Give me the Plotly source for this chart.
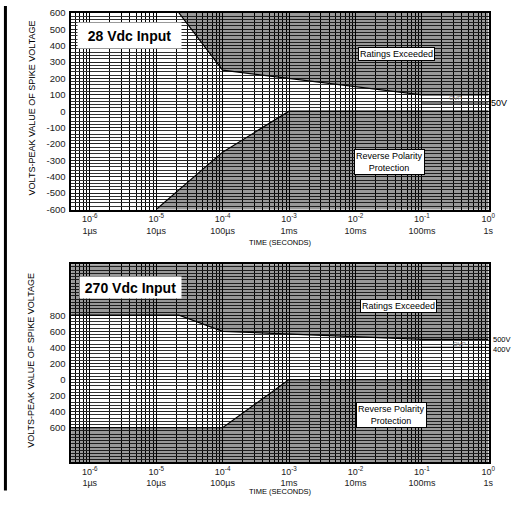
import plotly.graph_objects as go

# ---------------- data ----------------
time_ticks = [1e-6, 1e-5, 1e-4, 1e-3, 1e-2, 1e-1, 1]
time_tick_text = ["10<sup>-6</sup><br>1µs", "10<sup>-5</sup><br>10µs", "10<sup>-4</sup><br>100µs",
                  "10<sup>-3</sup><br>1ms", "10<sup>-2</sup><br>10ms", "10<sup>-1</sup><br>100ms",
                  "10<sup>0</sup><br>1s"]
minor_time = [m * 10.0 ** k for k in range(-7, 0) for m in range(2, 10)]

v28_ticks = [-600, -500, -400, -300, -200, -100, 0, 100, 200, 300, 400, 500, 600]
v28_text = [str(v) for v in v28_ticks]
v270_ticks = [-600, -400, -200, 0, 200, 400, 600, 800]
v270_text = ["600", "400", "200", "0", "200", "400", "600", "800"]

# 28 Vdc input boundaries
t28_upper = [2.2e-5, 1e-4, 1e-1, 1]
v28_upper = [600, 250, 100, 100]
t28_lower = [1e-5, 1e-4, 1e-3, 1]
v28_lower = [-600, -250, 0, 0]
t28_ovp = [1e-1, 1]
v28_ovp = [50, 50]

# 270 Vdc input boundaries
t270_upper = [4e-7, 2.2e-5, 1e-4, 1e-1, 1]
v270_upper = [800, 800, 600, 500, 500]
t270_lower = [4e-7, 1e-4, 1e-3, 1]
v270_lower = [-600, -600, 0, 0]
t270_ovp = [1e-1, 1]
v270_ovp = [400, 400]

Y28 = (-600, 600)
Y270 = (-1026, 1433)

W, H = 522, 513
FILL = "rgba(0,0,0,0.40)"
FONT = "Liberation Sans, Arial, sans-serif"

fig = go.Figure()


def add_chart(xa, ya, t_up, v_up, t_lo, v_lo, t_ovp, v_ovp, yr):
    ymin, ymax = yr
    fig.add_trace(go.Scatter(x=t_up + [t_up[-1], t_up[0]], y=v_up + [ymax + 100, ymax + 100],
                             fill="toself", fillcolor=FILL, mode="none", xaxis=xa, yaxis=ya,
                             hoverinfo="skip", showlegend=False))
    fig.add_trace(go.Scatter(x=t_lo + [t_lo[-1], t_lo[0]], y=v_lo + [ymin - 100, ymin - 100],
                             fill="toself", fillcolor=FILL, mode="none", xaxis=xa, yaxis=ya,
                             hoverinfo="skip", showlegend=False))
    for tx, vy in ((t_up, v_up), (t_lo, v_lo), (t_ovp, v_ovp)):
        fig.add_trace(go.Scatter(x=tx, y=vy, mode="lines", line=dict(color="black", width=1.2),
                                 xaxis=xa, yaxis=ya, hoverinfo="skip", showlegend=False))


add_chart("x", "y", t28_upper, v28_upper, t28_lower, v28_lower, t28_ovp, v28_ovp, Y28)
add_chart("x2", "y2", t270_upper, v270_upper, t270_lower, v270_lower, t270_ovp, v270_ovp, Y270)

xdom = [72 / W, 495 / W]
top_dom = [1 - 208 / H, 1 - 7 / H]
bot_dom = [1 - 466 / H, 1 - 264 / H]

tickfont = dict(family=FONT, size=9, color="#222")

xcommon = dict(type="log", range=[-6.28, 0.015], domain=xdom, tickmode="array", tickvals=time_ticks,
               ticktext=time_tick_text, showgrid=True, gridcolor="black", gridwidth=1,
               minor=dict(tickmode="array", tickvals=minor_time, showgrid=True, gridcolor="black",
                          gridwidth=1, ticks=""),
               showline=True, mirror=True, linecolor="black", linewidth=1.5, ticks="",
               tickfont=tickfont, zeroline=False, ticklabelstandoff=0)

fig.update_layout(
    width=W, height=H, margin=dict(l=0, r=0, t=0, b=0),
    paper_bgcolor="white", plot_bgcolor="white", showlegend=False,
    xaxis=dict(xcommon, anchor="y"),
    xaxis2=dict(xcommon, anchor="y2"),
    yaxis=dict(domain=top_dom, range=list(Y28), tickmode="array", tickvals=v28_ticks, ticktext=v28_text,
               showgrid=True, gridcolor="#222", gridwidth=1,
               minor=dict(dtick=20, tick0=0, showgrid=True, gridcolor="#333", gridwidth=1, ticks=""),
               showline=True, mirror=True, linecolor="black", linewidth=1.5, ticks="",
               tickfont=dict(tickfont, size=9.5), zeroline=False, anchor="x", ticklabelstandoff=2),
    yaxis2=dict(domain=bot_dom, range=list(Y270), tickmode="array", tickvals=v270_ticks, ticktext=v270_text,
                showgrid=True, gridcolor="#222", gridwidth=1,
                minor=dict(dtick=40, tick0=0, showgrid=True, gridcolor="#333", gridwidth=1, ticks=""),
                showline=True, mirror=True, linecolor="black", linewidth=1.5, ticks="",
                tickfont=dict(tickfont, size=9.5), zeroline=False, anchor="x2", ticklabelstandoff=2),
)


def P(px, py):
    return px / W, 1 - py / H


ann = []


def box(text, px, py, size, bold=False, border=True, w=None, h=None):
    x, y = P(px, py)
    d = dict(text=f"<b>{text}</b>" if bold else text, x=x, y=y, xref="paper", yref="paper",
             showarrow=False, xanchor="center", yanchor="middle",
             font=dict(family=FONT, size=size, color="black"), bgcolor="white", borderpad=1)
    if border:
        d.update(bordercolor="black", borderwidth=1)
    if w:
        d.update(width=w)
    if h:
        d.update(height=h)
    ann.append(d)


box("28 Vdc Input", 131.5, 30.5, 14, bold=True, border=False, w=101, h=23)
box("270 Vdc Input", 132.5, 287.5, 14, bold=True, border=False, w=99, h=19)
box("Ratings Exceeded", 401, 49.5, 9)
box("Ratings Exceeded", 403, 307, 9)
box("Reverse Polarity<br>Protection", 394.5, 159, 9)
box("Reverse Polarity<br>Protection", 396, 418, 9)


def label(text, px, py, size, color="black", xanchor="center", angle=0):
    x, y = P(px, py)
    ann.append(dict(text=text, x=x, y=y, xref="paper", yref="paper", showarrow=False,
                    xanchor=xanchor, yanchor="middle", textangle=angle, align="left",
                    font=dict(family=FONT, size=size, color=color)))


label("50V", 495, 99, 9, xanchor="left")
label("500V<br>400V", 497, 345.5, 7.5, xanchor="left")
label("OVP", 461, 94, 6, color="#777")
label("OVP", 465, 345, 6, color="#777")
label("TIME (SECONDS)", 283.5, 241.5, 7.5)
label("TIME (SECONDS)", 283.5, 496.5, 7.5)
label("VOLTS-PEAK VALUE OF SPIKE VOLTAGE", 32, 104, 9, angle=-90)
label("VOLTS-PEAK VALUE OF SPIKE VOLTAGE", 32, 362, 9, angle=-90)

fig.update_layout(annotations=ann)

# decorative left bar of the datasheet page
fig.add_shape(type="line", xref="paper", yref="paper", x0=5.5 / W, x1=5.5 / W, y0=1, y1=1 - 495 / H,
              line=dict(color="black", width=3))

fig.write_html("out.html", config={"displayModeBar": False},
               post_script="document.body.style.margin='0';document.body.style.overflow='hidden';")
